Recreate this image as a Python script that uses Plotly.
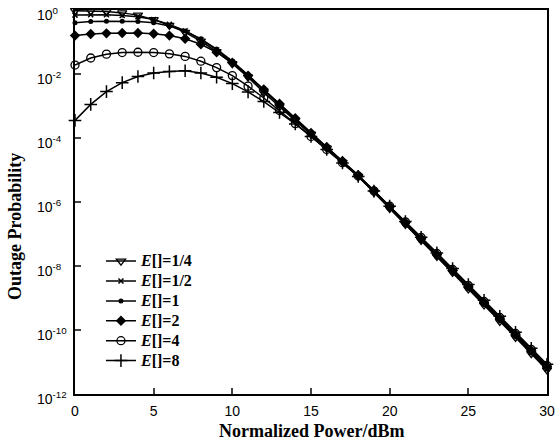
import plotly.graph_objects as go

power_dbm = list(range(0, 31))

# log10 of outage probability
log_p_e_quarter = [-0.02, -0.03, -0.05, -0.09, -0.16, -0.30, -0.48, -0.70, -0.97, -1.30,
                   -1.68, -2.10, -2.58, -3.02, -3.45, -3.88, -4.32, -4.76, -5.20, -5.70,
                   -6.20, -6.70, -7.20, -7.70, -8.20, -8.72, -9.22, -9.73, -10.23, -10.74, -11.25]
log_p_e_half = [-0.16, -0.15, -0.15, -0.17, -0.21, -0.30, -0.45, -0.65, -0.92, -1.25,
                -1.63, -2.06, -2.52, -2.98, -3.42, -3.86, -4.30, -4.74, -5.19, -5.68,
                -6.18, -6.68, -7.18, -7.68, -8.18, -8.69, -9.19, -9.70, -10.20, -10.71, -11.21]
log_p_e_1 = [-0.40, -0.36, -0.35, -0.35, -0.36, -0.40, -0.50, -0.66, -0.90, -1.22,
             -1.60, -2.03, -2.49, -2.95, -3.40, -3.85, -4.29, -4.73, -5.17, -5.66,
             -6.16, -6.66, -7.16, -7.66, -8.16, -8.66, -9.16, -9.67, -10.17, -10.68, -11.18]
log_p_e_2 = [-0.80, -0.75, -0.73, -0.72, -0.72, -0.74, -0.80, -0.90, -1.07, -1.32,
             -1.65, -2.05, -2.48, -2.93, -3.38, -3.84, -4.28, -4.72, -5.16, -5.64,
             -6.14, -6.64, -7.14, -7.64, -8.14, -8.64, -9.14, -9.64, -10.14, -10.65, -11.15]
log_p_e_4 = [-1.72, -1.50, -1.38, -1.33, -1.32, -1.33, -1.37, -1.45, -1.60, -1.80,
             -2.05, -2.38, -2.75, -3.14, -3.55, -3.95, -4.36, -4.77, -5.19, -5.65,
             -6.13, -6.62, -7.11, -7.61, -8.11, -8.61, -9.11, -9.61, -10.11, -10.61, -11.11]
log_p_e_8 = [-3.45, -2.95, -2.55, -2.27, -2.08, -1.97, -1.92, -1.90, -1.97, -2.10,
             -2.30, -2.56, -2.86, -3.20, -3.56, -3.95, -4.36, -4.78, -5.20, -5.66,
             -6.13, -6.61, -7.10, -7.59, -8.08, -8.58, -9.07, -9.57, -10.07, -10.57, -11.07]

series_names = ["1/4", "1/2", "1", "2", "4", "8"]
series_logs = [log_p_e_quarter, log_p_e_half, log_p_e_1, log_p_e_2, log_p_e_4, log_p_e_8]
marker_styles = [
    dict(symbol="triangle-down-open", size=8, line=dict(width=1.3, color="black")),
    dict(symbol="x-thin", size=5, line=dict(width=1.5, color="black")),
    dict(symbol="circle", size=5),
    dict(symbol="diamond", size=8),
    dict(symbol="circle-open", size=8, line=dict(width=1.3, color="black")),
    dict(symbol="cross-thin", size=9, line=dict(width=1.5, color="black")),
]

y_tick_exps = [0, -2, -4, -6, -8, -10, -12]
y_tick_text = ["10<sup>0</sup>", "10<sup>-2</sup>", "10<sup>-4</sup>", "10<sup>-6</sup>",
               "10<sup>-8</sup>", "10<sup>-10</sup>", "10<sup>-12</sup>"]
x_tick_vals = [0, 5, 10, 15, 20, 25, 30]

fig = go.Figure()
for name, logs, mk in zip(series_names, series_logs, marker_styles):
    fig.add_trace(go.Scatter(
        x=power_dbm, y=[10 ** v for v in logs], mode="lines+markers",
        name=f'<span style="font-size:16px"><b><i>E</i>[]={name}</b></span>',
        line=dict(color="black", width=1.5),
        marker=dict(color="black", **mk),
        cliponaxis=False,
    ))

# y tick labels, left aligned as in the reference
for exp, txt in zip(y_tick_exps, y_tick_text):
    fig.add_annotation(xref="paper", yref="y", x=0, y=exp, text=txt, showarrow=False,
                       xanchor="left", xshift=-40, yshift=-4,
                       font=dict(family="Liberation Sans", size=14, color="black"))

fig.add_annotation(xref="paper", yref="paper", x=0.5, y=0, yshift=-37, text="<b>Normalized Power/dBm</b>",
                   showarrow=False, xanchor="center", yanchor="middle",
                   font=dict(family="Liberation Serif", size=18, color="black"))
fig.add_annotation(xref="paper", yref="paper", x=0, xshift=-60, y=0.435, text="<b>Outage Probability</b>",
                   showarrow=False, textangle=-90, xanchor="center", yanchor="middle",
                   font=dict(family="Liberation Serif", size=18, color="black"))

fig.update_layout(
    width=556, height=440,
    margin=dict(l=75, r=9, t=10, b=46),
    paper_bgcolor="white", plot_bgcolor="white",
    showlegend=True,
    legend=dict(x=0.055, y=0.385, xanchor="left", yanchor="top",
                bgcolor="rgba(0,0,0,0)", tracegroupgap=0,
                font=dict(family="Liberation Serif", size=13, color="black")),
    font=dict(family="Liberation Sans", color="black"),
)
fig.update_xaxes(
    range=[0, 30], tickvals=x_tick_vals, ticks="inside", ticklen=6, tickwidth=1.5,
    showline=True, linecolor="black", linewidth=2, mirror=True, showgrid=False, zeroline=False,
    automargin=False, ticklabelstandoff=3,
    tickfont=dict(family="Liberation Sans", size=14, color="black"),
)
fig.update_yaxes(
    type="log", range=[-12, 0], tickvals=[10 ** e for e in y_tick_exps], showticklabels=False,
    ticks="inside", ticklen=6, tickwidth=1.5, automargin=False,
    showline=True, linecolor="black", linewidth=2, mirror=True, showgrid=False, zeroline=False,
)

# remove the browser's default page margin so the figure sits at the window origin
fig.write_html("out.html", config={"displayModeBar": False},
               post_script="document.body.style.margin='0px';document.body.style.overflow='hidden';")
